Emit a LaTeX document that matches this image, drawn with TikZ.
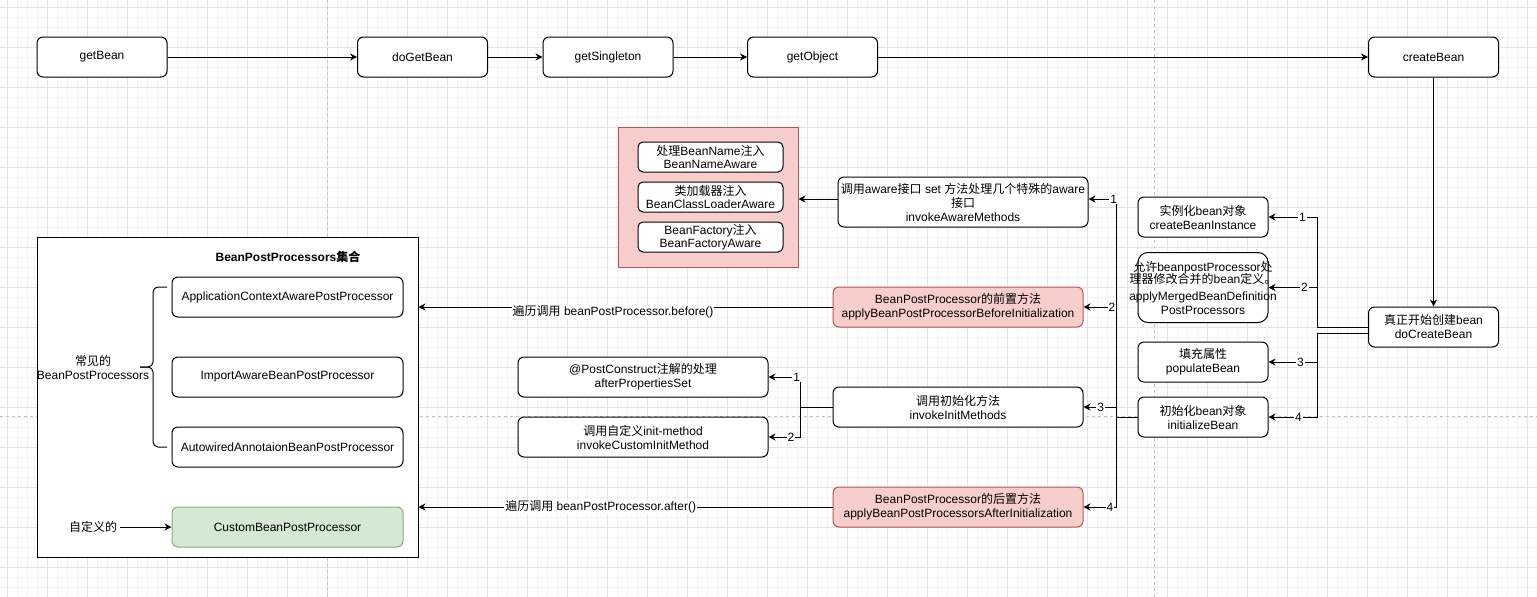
\documentclass[tikz,border=0pt]{standalone}
\usepackage{fontspec}
\setmainfont{Liberation Sans}
\newfontfamily\cjk{Noto Sans CJK SC}
\usetikzlibrary{arrows.meta,positioning,calc}

\newcommand\zh[1]{{\cjk #1}}
\newcommand\wide[1]{\makebox[0pt]{#1}}

\definecolor{redfill}{HTML}{F8CECC}
\definecolor{redline}{HTML}{B85450}
\definecolor{greenfill}{HTML}{D5E8D4}
\definecolor{greenline}{HTML}{82B366}
\definecolor{gridmajor}{HTML}{E4E4E4}
\definecolor{gridminor}{HTML}{F2F2F2}
\definecolor{pageline}{HTML}{C4C4C4}

\tikzset{
  box/.style={draw, fill=white, line width=1pt, rounded corners=6pt, align=center, inner sep=0pt, minimum width=130pt, minimum height=40pt},
  redbox/.style={box, fill=redfill, draw=redline},
  greenbox/.style={box, fill=greenfill, draw=greenline},
  group/.style={draw, line width=1pt, inner sep=0pt},
  arr/.style={-{Stealth[length=7pt,width=7pt]}, line width=1pt},
  num/.style={fill=white, inner sep=1pt},
  lbl/.style={fill=white, inner sep=1pt},
  brace/.style={line width=1pt, rounded corners=5pt},
}

\begin{document}
\begin{tikzpicture}[x=1pt, y=-1pt, font=\fontsize{12}{14}\selectfont]
    \useasboundingbox (0,0) rectangle (1537,597);
    \fill[white] (0,0) rectangle (1537,597);
    \foreach \x in {7,17,...,1537} \draw[gridminor, line width=0.8pt] (\x,0) -- (\x,597);
    \foreach \y in {7,17,...,597} \draw[gridminor, line width=0.8pt] (0,\y) -- (1537,\y);
    \foreach \x in {7,47,...,1537} \draw[gridmajor, line width=0.8pt] (\x,0) -- (\x,597);
    \foreach \y in {7,47,...,597} \draw[gridmajor, line width=0.8pt] (0,\y) -- (1537,\y);
    \draw[pageline, dash pattern=on 3pt off 3pt] (327,0) -- (327,597) (1154,0) -- (1154,597) (0,416) -- (1537,416);

    % call chain
    \node[box] (getbean) at (102,57) {getBean};
    \node[box] (dogetbean) at (422.5,57) {doGetBean};
    \node[box] (getsingleton) at (608,57) {getSingleton};
    \node[box] (getobject) at (812.5,57) {getObject};
    \node[box] (createbean) at (1433.5,57) {createBean};
    \node[box] (docreate) at (1433.5,327) {\zh{真正开始创建}bean\\doCreateBean};

    \node[box] (createinst) at (1203,217) {\zh{实例化}bean\zh{对象}\\createBeanInstance};
    \node[box, minimum height=70pt, rounded corners=10pt] (mergedef) at (1203,287.5)
      {\wide{\zh{允许}beanpostProcessor\zh{处}}\\[-2pt]\wide{\zh{理器修改合并的}bean\zh{定义。}}\\[3pt]\wide{applyMergedBeanDefinition}\\PostProcessors};
    \node[box] (populate) at (1203,362) {\zh{填充属性}\\populateBean};
    \node[box] (initbean) at (1203,417) {\zh{初始化}bean\zh{对象}\\initializeBean};

    \node[box, minimum width=250pt, minimum height=50pt] (invokeaware) at (963,202)
      {\wide{\zh{调用}aware\zh{接口} set \zh{方法处理几个特殊的}aware}\\\zh{接口}\\invokeAwareMethods};
    \node[group, fill=redfill, draw=redline, minimum width=180pt, minimum height=140pt] (awaregroup) at (708,197) {};
    \node[box, minimum width=145pt, minimum height=30pt, rounded corners=5pt] (beannameaware) at (710.5,157) {\zh{处理}BeanName\zh{注入}\\[-1pt]BeanNameAware};
    \node[box, minimum width=145pt, minimum height=30pt, rounded corners=5pt] (classloaderaware) at (710.5,197) {\zh{类加载器注入}\\[-1pt]BeanClassLoaderAware};
    \node[box, minimum width=145pt, minimum height=30pt, rounded corners=5pt] (factoryaware) at (710.5,237) {BeanFactory\zh{注入}\\[-1pt]BeanFactoryAware};

    \node[redbox, minimum width=250pt] (before) at (958,307) {BeanPostProcessor\zh{的前置方法}\\applyBeanPostProcessorBeforeInitialization};
    \node[box, minimum width=250pt] (invokeinit) at (958,407) {\zh{调用初始化方法}\\invokeInitMethods};
    \node[redbox, minimum width=250pt] (after) at (958,507) {BeanPostProcessor\zh{的后置方法}\\applyBeanPostProcessorsAfterInitialization};
    \node[box, minimum width=250pt] (postconstruct) at (643,377) {@PostConstruct\zh{注解的处理}\\afterPropertiesSet};
    \node[box, minimum width=250pt] (initmethod) at (643,437) {\zh{调用自定义}init-method\\invokeCustomInitMethod};

    % processor collection
    \node[group, fill=white, minimum width=381pt, minimum height=320pt] (bppgroup) at (227.5,397) {};
    \node[font=\fontsize{12}{14}\selectfont\bfseries] (bpptitle) at (288,257) {BeanPostProcessors\zh{集合}};
    \node[box, minimum width=231pt] (appctx) at (287.5,297) {ApplicationContextAwarePostProcessor};
    \node[box, minimum width=231pt] (importaware) at (287.5,377) {ImportAwareBeanPostProcessor};
    \node[box, minimum width=231pt] (autowired) at (287.5,447) {AutowiredAnnotaionBeanPostProcessor};
    \node[greenbox, minimum width=231pt] (custombpp) at (287.5,527) {CustomBeanPostProcessor};
    \node[align=center, inner sep=0pt] (commonlbl) at (93,367) {\zh{常见的}\\BeanPostProcessors};
    \node[inner sep=3pt] (customlbl) at (93,527) {\zh{自定义的}};
    \draw[brace] (167,287) -- (153,287) -- (153,367) -- (140,367);
    \draw[brace] (140,367) -- (153,367) -- (153,447) -- (167,447);

    \draw[arr] (getbean) -- (dogetbean);
    \draw[arr] (dogetbean) -- (getsingleton);
    \draw[arr] (getsingleton) -- (getobject);
    \draw[arr] (getobject) -- (createbean);
    \draw[arr] (createbean) -- (docreate);

    \draw[arr] (docreate.west) -- ++(-51,0) |- node[num, pos=0.65] {1} (createinst.east);
    \draw[arr] (docreate.west) -- ++(-51,0) |- node[num, pos=0.63] {2} (mergedef.east);
    \draw[arr] ([yshift=-6pt]docreate.west) -- ++(-51,0) |- node[num, pos=0.67] {3} (populate.east);
    \draw[arr] ([yshift=-6pt]docreate.west) -- ++(-51,0) |- node[num, pos=0.69] {4} (initbean.east);

    \coordinate (awareend) at ([yshift=3pt]invokeaware.east);
    \draw[arr] (initbean.west) -- ++(-21,0) |- node[num, pos=0.55] {1} (awareend);
    \draw[arr] (initbean.west) -- ++(-21,0) |- node[num, pos=0.57] {2} (before.east);
    \draw[arr] (initbean.west) -- ++(-21,0) |- node[num, pos=0.74] {3} (invokeinit.east);
    \draw[arr] (initbean.west) -- ++(-21,0) |- node[num, pos=0.6] {4} (after.east);

    \coordinate (awarein) at ([yshift=3pt]invokeaware.west);
    \draw[arr] (awarein) -- (awarein -| awaregroup.east);

    \draw[arr] (invokeinit.west) -- ++(-32,0) |- node[num, pos=0.56] {1} (postconstruct.east);
    \draw[arr] (invokeinit.west) -- ++(-32,0) |- node[num, pos=0.65] {2} (initmethod.east);

    \draw[arr] (before) -- node[lbl, pos=0.53, yshift=-5pt] {\zh{遍历调用} beanPostProcessor.before()} (before -| bppgroup.east);
    \draw[arr] (after) -- node[lbl, pos=0.56] {\zh{遍历调用} beanPostProcessor.after()} (after -| bppgroup.east);
    \draw[arr] (customlbl) -- (custombpp);
\end{tikzpicture}
\end{document}
